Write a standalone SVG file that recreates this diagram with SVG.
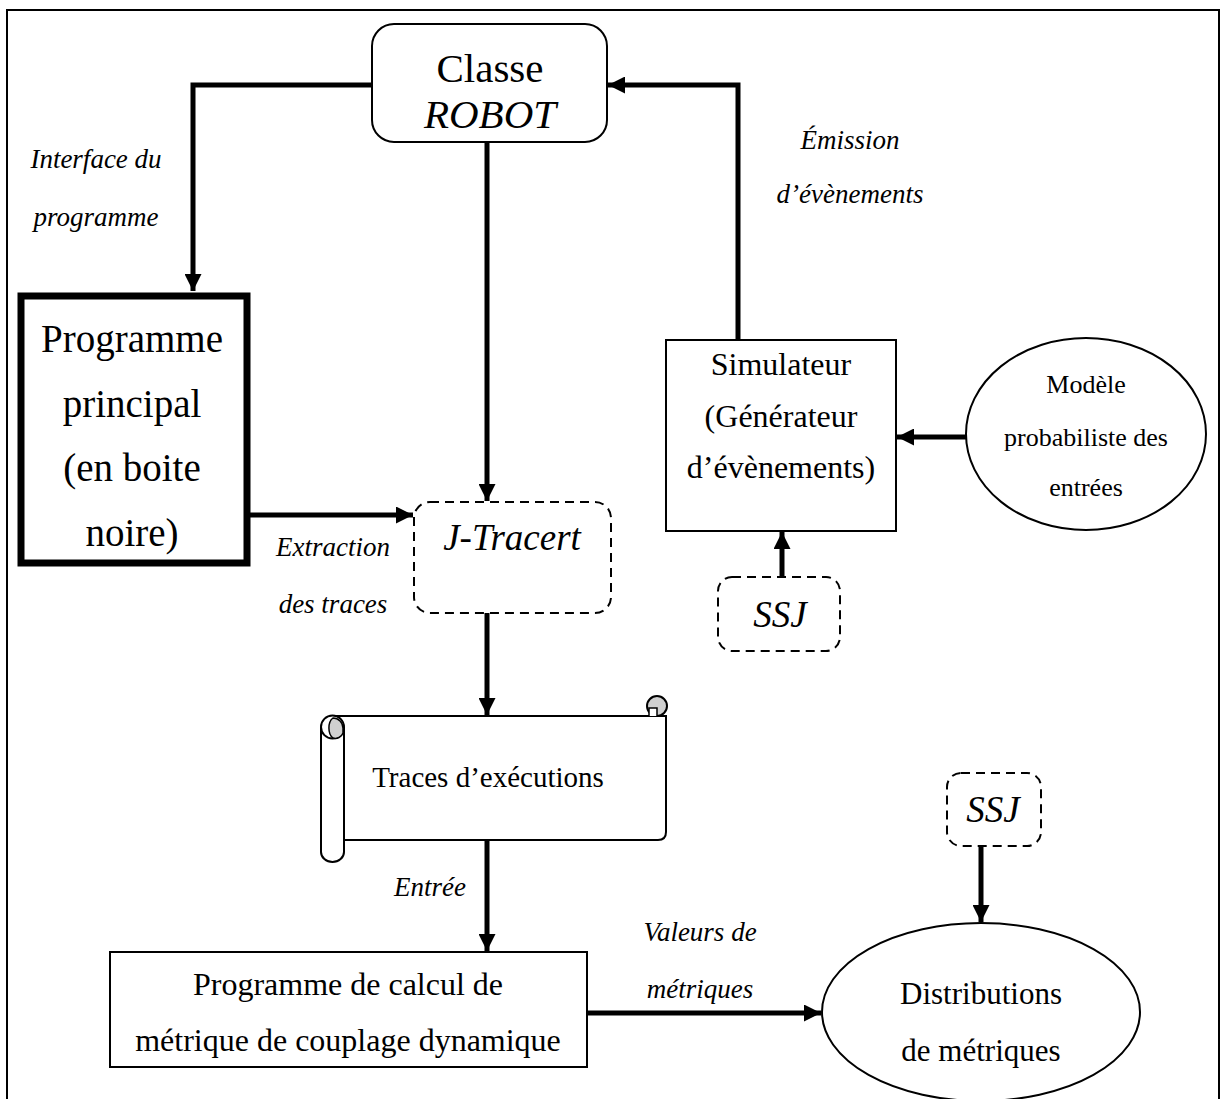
<svg xmlns="http://www.w3.org/2000/svg" width="1222" height="1099" viewBox="0 0 1222 1099">
<defs>
<marker id="ah" viewBox="0 0 10 10" refX="10" refY="5" markerWidth="3.8" markerHeight="3.4" markerUnits="strokeWidth" orient="auto">
<path d="M0,0 L10,5 L0,10 z" fill="#000"/>
</marker>
</defs>
<style>
text{font-family:"Liberation Serif","Times New Roman",serif;fill:#000;text-anchor:middle}
.it{font-style:italic}
.box{fill:#fff;stroke:#000;stroke-width:2}
.dash{fill:#fff;stroke:#000;stroke-width:2;stroke-dasharray:9,6}
.conn{fill:none;stroke:#000;stroke-width:5;marker-end:url(#ah)}
.lbl{font-size:27px;font-style:italic}
</style>
<rect x="0" y="0" width="1222" height="1099" fill="#fff"/>
<rect x="7" y="10" width="1212" height="1100" fill="none" stroke="#000" stroke-width="2"/>

<g id="connectors">
<polyline class="conn" points="372,85 193,85 193,291"/>
<polyline class="conn" points="487,142 487,501"/>
<polyline class="conn" points="250,515 413,515"/>
<polyline class="conn" points="738,340 738,85 608,85"/>
<polyline class="conn" points="967,437 897,437"/>
<polyline class="conn" points="782,577 782,532"/>
<polyline class="conn" points="487,613 487,715"/>
<polyline class="conn" points="487,840 487,951"/>
<polyline class="conn" points="587,1013 821,1013"/>
<polyline class="conn" points="981,846 981,922"/>
<text class="lbl" x="96" y="168">Interface du</text>
<text class="lbl" x="96" y="226">programme</text>
<text class="lbl" x="850" y="149">Émission</text>
<text class="lbl" x="850" y="203">d’évènements</text>
<text class="lbl" x="333" y="556" font-size="28">Extraction</text>
<text class="lbl" x="333" y="613">des traces</text>
<text class="lbl" x="430" y="896">Entrée</text>
<text class="lbl" x="700" y="941">Valeurs de</text>
<text class="lbl" x="700" y="998">métriques</text>
</g>

<g id="classe">
<rect class="box" x="372" y="24" width="235" height="118" rx="22"/>
<text x="490" y="82" font-size="41">Classe</text>
<text class="it" x="490" y="128" font-size="41">ROBOT</text>
</g>

<g id="programme">
<rect x="21" y="296" width="226" height="267" fill="#fff" stroke="#000" stroke-width="7"/>
<text x="132" y="352" font-size="39">Programme</text>
<text x="132" y="417" font-size="39">principal</text>
<text x="132" y="481" font-size="39">(en boite</text>
<text x="132" y="546" font-size="39">noire)</text>
</g>

<g id="jtracert">
<rect class="dash" x="414" y="502" width="197" height="111" rx="16"/>
<text class="it" x="512" y="550" font-size="37">J-Tracert</text>
</g>

<g id="simulateur">
<rect class="box" x="666" y="340" width="230" height="191"/>
<text x="781" y="375" font-size="32">Simulateur</text>
<text x="781" y="427" font-size="32">(Générateur</text>
<text x="781" y="478" font-size="32">d’évènements)</text>
</g>

<g id="modele">
<ellipse class="box" cx="1086" cy="434" rx="120" ry="96"/>
<text x="1086" y="393" font-size="26">Modèle</text>
<text x="1086" y="446" font-size="26">probabiliste des</text>
<text x="1086" y="496" font-size="26">entrées</text>
</g>

<g id="ssj1">
<rect class="dash" x="718" y="577" width="122" height="74" rx="14"/>
<text class="it" x="780" y="627" font-size="37">SSJ</text>
</g>

<g id="traces">
<path class="box" d="M333,716 L666,716 L666,832 Q666,840 658,840 L344,840 Z"/>
<circle cx="657" cy="706" r="10" fill="#d0d0d0" stroke="#000" stroke-width="2"/>
<path d="M649,716 L649,708 L657,708 L657,716" fill="#fff" stroke="#000" stroke-width="1.5"/>
<path class="box" d="M321,728 L321,852 A11.5,10 0 0 0 344,852 L344,728 Z"/>
<circle cx="332.5" cy="727" r="11.5" fill="#fff" stroke="#000" stroke-width="2"/>
<path d="M333,738 A7,11 0 0 1 333,718 A10,10 0 0 1 343,728 L343,733 A8,8 0 0 1 333,738 Z" fill="#d0d0d0" stroke="#000" stroke-width="1.5"/>
<text x="488" y="787" font-size="29">Traces d’exécutions</text>
</g>

<g id="calcul">
<rect class="box" x="110" y="952" width="477" height="115"/>
<text x="348" y="995" font-size="32">Programme de calcul de</text>
<text x="348" y="1051" font-size="32">métrique de couplage dynamique</text>
</g>

<g id="ssj2">
<rect class="dash" x="947" y="773" width="94" height="73" rx="14"/>
<text class="it" x="993" y="822" font-size="37">SSJ</text>
</g>

<g id="distributions">
<ellipse class="box" cx="981" cy="1012" rx="159" ry="89"/>
<text x="981" y="1004" font-size="31">Distributions</text>
<text x="981" y="1061" font-size="31">de métriques</text>
</g>
</svg>
